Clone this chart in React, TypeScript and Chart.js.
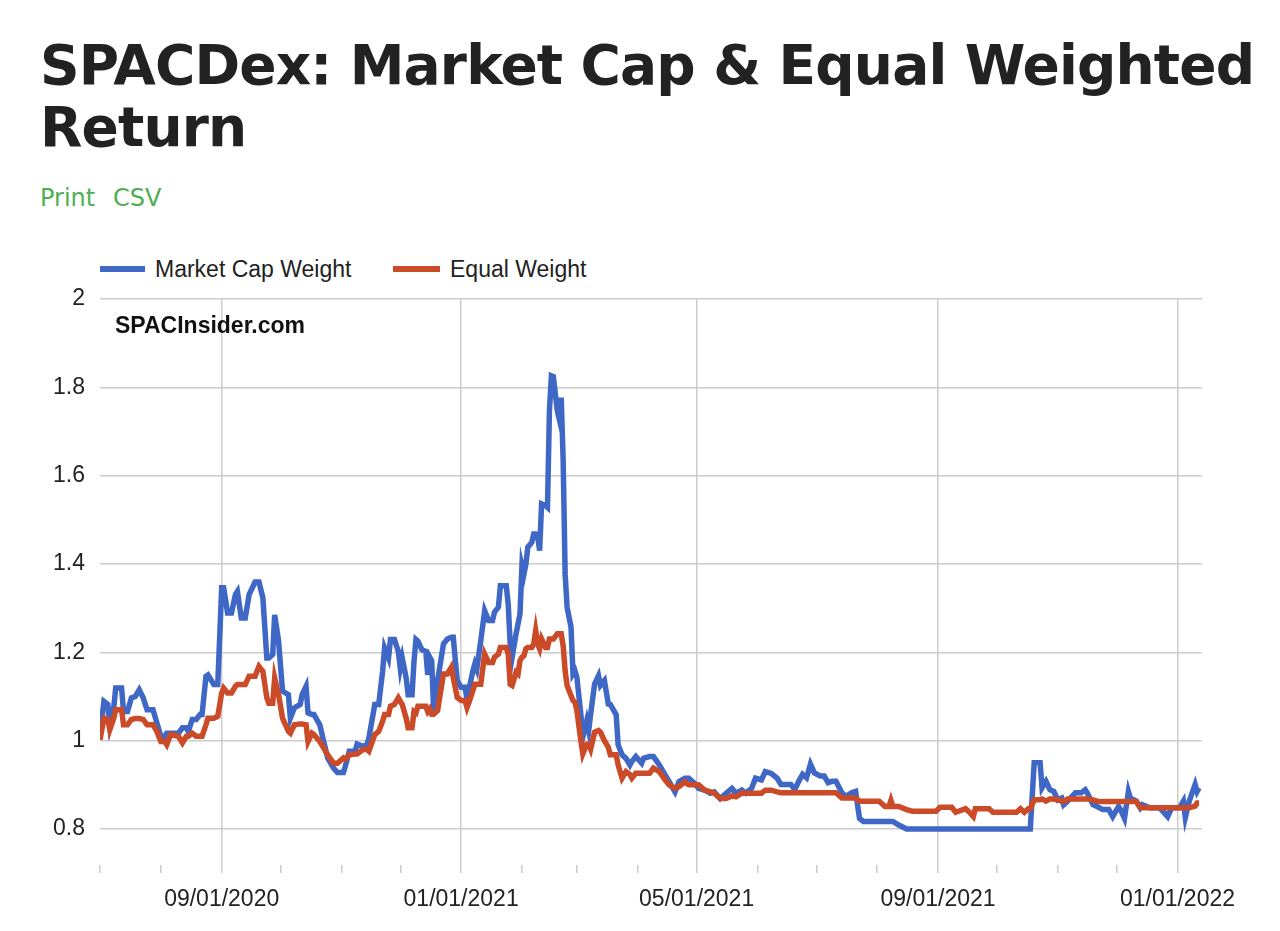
import React, { useEffect, useRef } from "react";
import { Chart, registerables } from "chart.js";

Chart.register(...registerables);

// x values: days since 2020-07-01
const days = [
  0, 2, 4, 5, 7, 8, 11, 12, 14, 16, 18, 20, 22, 24, 27, 29, 31, 33, 34, 36, 40, 42, 44, 45, 47, 49, 51, 52, 54, 55, 58, 60,
  62, 63, 65, 67, 69, 70, 72, 74, 76, 79, 81, 83, 85, 86, 88, 89, 91, 93, 96, 97, 99, 102, 103, 105, 106, 108, 109, 112, 114, 116,
  119, 121, 124, 125, 127, 130, 131, 134, 136, 137, 140, 142, 144, 145, 147, 148, 150, 152, 153, 154, 156, 157, 159, 160, 161, 162, 164, 166, 167, 168,
  169, 170, 172, 175, 177, 179, 180, 182, 184, 186, 187, 188, 190, 191, 192, 194, 196, 198, 200, 201, 203, 204, 207, 208, 209, 210, 212, 213,
  214, 215, 216, 217, 218, 220, 221, 222, 223, 224, 225, 227, 228, 229, 230, 231, 233, 234, 235, 236, 237, 238, 240, 241, 242, 243, 245, 246,
  248, 249, 250, 252, 254, 255, 257, 259, 260, 263, 264, 266, 268, 270, 271, 273, 276, 277, 280, 282, 285, 288, 290, 293, 295, 298, 300, 303,
  305, 308, 311, 313, 316, 319, 322, 324, 327, 329, 332, 334, 337, 339, 342, 345, 347, 350, 352, 354, 356, 358, 360, 361, 362, 364, 367, 369,
  371, 373, 375, 378, 380, 383, 385, 387, 389, 397, 400, 402, 403, 404, 407, 411, 414, 426, 428, 434, 436, 441, 443, 445, 446, 453, 455, 467,
  469, 471, 473, 474, 476, 479, 480, 482, 484, 486, 488, 490, 491, 493, 497, 500, 502, 503, 506, 508, 511, 514, 516, 519, 520, 522, 524, 525,
  528, 530, 531, 535, 540, 544, 546, 550, 552, 553, 555, 558, 559, 560,
];

const marketCapWeight = [
  1.012, 1.089, 1.082, 1.036, 1.074, 1.119, 1.119, 1.066, 1.066, 1.097, 1.1, 1.115, 1.097, 1.07, 1.07, 1.04, 1.01, 1.01, 1.017, 1.017, 1.017, 1.029, 1.029, 1.021, 1.048, 1.048, 1.059, 1.059, 1.146, 1.149, 1.127, 1.127,
  1.346, 1.346, 1.289, 1.289, 1.331, 1.338, 1.278, 1.278, 1.331, 1.359, 1.359, 1.323, 1.187, 1.187, 1.195, 1.285, 1.225, 1.112, 1.104, 1.051, 1.074, 1.082, 1.104, 1.123, 1.063, 1.059, 1.059, 1.036, 0.998, 0.961,
  0.938, 0.928, 0.928, 0.942, 0.976, 0.976, 0.992, 0.987, 0.991, 1.006, 1.082, 1.082, 1.157, 1.21, 1.187, 1.229, 1.229, 1.202, 1.164, 1.187, 1.142, 1.104, 1.104, 1.18, 1.229, 1.225, 1.206, 1.202, 1.149, 1.189,
  1.181, 1.068, 1.136, 1.219, 1.23, 1.234, 1.234, 1.136, 1.121, 1.121, 1.094, 1.117, 1.158, 1.174, 1.162, 1.226, 1.294, 1.272, 1.272, 1.291, 1.302, 1.351, 1.351, 1.309, 1.219, 1.189, 1.242, 1.264,
  1.287, 1.396, 1.377, 1.4, 1.438, 1.449, 1.468, 1.468, 1.464, 1.43, 1.536, 1.532, 1.528, 1.747, 1.826, 1.824, 1.747, 1.728, 1.777, 1.634, 1.377, 1.302, 1.257, 1.151, 1.158, 1.143, 1.06, 1.008,
  1.045, 1.023, 1.06, 1.128, 1.147, 1.125, 1.136, 1.083, 1.082, 1.059, 0.991, 0.968, 0.96, 0.945, 0.953, 0.964, 0.949, 0.96, 0.964, 0.964, 0.945, 0.922, 0.907, 0.884, 0.907, 0.915, 0.915, 0.903,
  0.892, 0.888, 0.881, 0.884, 0.869, 0.881, 0.892, 0.881, 0.888, 0.881, 0.892, 0.915, 0.911, 0.93, 0.926, 0.915, 0.901, 0.901, 0.901, 0.889, 0.908, 0.924, 0.916, 0.931, 0.947, 0.927, 0.92, 0.92,
  0.905, 0.908, 0.908, 0.882, 0.874, 0.882, 0.885, 0.824, 0.817, 0.817, 0.817, 0.817, 0.817, 0.817, 0.809, 0.8, 0.8, 0.8, 0.8, 0.8, 0.8, 0.8, 0.8, 0.8, 0.8, 0.8, 0.8, 0.8,
  0.8, 0.8, 0.8, 0.8, 0.95, 0.95, 0.893, 0.908, 0.889, 0.885, 0.866, 0.87, 0.855, 0.863, 0.882, 0.882, 0.889, 0.882, 0.855, 0.851, 0.844, 0.844, 0.828, 0.851, 0.844, 0.824, 0.885, 0.87,
  0.863, 0.848, 0.855, 0.848, 0.848, 0.828, 0.848, 0.848, 0.863, 0.826, 0.863, 0.901, 0.885, 0.893,
];

const equalWeight = [
  1.002, 1.051, 1.048, 1.025, 1.051, 1.07, 1.07, 1.036, 1.036, 1.048, 1.05, 1.05, 1.048, 1.036, 1.036, 1.021, 0.998, 0.998, 0.991, 1.014, 1.01, 0.995, 1.01, 1.01, 1.017, 1.01, 1.01, 1.01, 1.036, 1.051, 1.051, 1.055,
  1.108, 1.119, 1.108, 1.108, 1.123, 1.127, 1.127, 1.127, 1.146, 1.146, 1.168, 1.157, 1.097, 1.085, 1.085, 1.142, 1.104, 1.051, 1.021, 1.017, 1.036, 1.038, 1.038, 1.036, 0.998, 1.017, 1.014, 0.998, 0.983, 0.968,
  0.949, 0.949, 0.961, 0.958, 0.968, 0.97, 0.97, 0.98, 0.98, 0.976, 1.014, 1.021, 1.044, 1.059, 1.059, 1.078, 1.082, 1.097, 1.089, 1.082, 1.051, 1.029, 1.029, 1.066, 1.063, 1.078, 1.078, 1.078, 1.066, 1.072,
  1.06, 1.06, 1.068, 1.151, 1.151, 1.166, 1.143, 1.098, 1.091, 1.091, 1.075, 1.087, 1.113, 1.128, 1.128, 1.128, 1.196, 1.177, 1.177, 1.189, 1.196, 1.211, 1.211, 1.196, 1.128, 1.125, 1.155, 1.151,
  1.181, 1.189, 1.192, 1.208, 1.211, 1.211, 1.219, 1.249, 1.219, 1.208, 1.23, 1.211, 1.211, 1.23, 1.23, 1.23, 1.242, 1.242, 1.242, 1.215, 1.158, 1.125, 1.102, 1.091, 1.087, 1.068, 1.0, 0.97,
  0.992, 0.992, 0.981, 1.019, 1.023, 1.019, 1.0, 0.985, 0.968, 0.968, 0.945, 0.915, 0.93, 0.923, 0.915, 0.926, 0.926, 0.926, 0.926, 0.938, 0.93, 0.911, 0.9, 0.892, 0.896, 0.907, 0.9, 0.9,
  0.9, 0.888, 0.884, 0.881, 0.869, 0.869, 0.875, 0.873, 0.881, 0.881, 0.881, 0.881, 0.881, 0.888, 0.888, 0.884, 0.882, 0.882, 0.882, 0.882, 0.882, 0.882, 0.882, 0.882, 0.882, 0.882, 0.882, 0.882,
  0.882, 0.882, 0.882, 0.87, 0.87, 0.87, 0.87, 0.863, 0.863, 0.863, 0.851, 0.851, 0.865, 0.851, 0.851, 0.844, 0.84, 0.84, 0.849, 0.849, 0.838, 0.846, 0.838, 0.828, 0.846, 0.846, 0.838, 0.838,
  0.846, 0.838, 0.846, 0.846, 0.866, 0.866, 0.868, 0.863, 0.868, 0.868, 0.866, 0.863, 0.862, 0.868, 0.868, 0.868, 0.868, 0.868, 0.866, 0.863, 0.862, 0.862, 0.862, 0.862, 0.862, 0.862, 0.862, 0.862,
  0.862, 0.849, 0.848, 0.848, 0.848, 0.848, 0.848, 0.848, 0.848, 0.848, 0.848, 0.852, 0.859, 0.859,
];

// month tick marks (first of each month) and which of them carry a label
const monthTicks = [
  "2020-07", "2020-08", "2020-09", "2020-10", "2020-11", "2020-12", "2021-01", "2021-02", "2021-03", "2021-04",
  "2021-05", "2021-06", "2021-07", "2021-08", "2021-09", "2021-10", "2021-11", "2021-12", "2022-01",
];
const xTickLabels = ["09/01/2020", "01/01/2021", "05/01/2021", "09/01/2021", "01/01/2022"];

const yTickValues = [0.8, 1, 1.2, 1.4, 1.6, 1.8, 2];
const yTickLabels = ["0.8", "1", "1.2", "1.4", "1.6", "1.8", "2"];

const seriesNames = ["Market Cap Weight", "Equal Weight"];
const WATERMARK = "SPACInsider.com";

const BLUE = "#3f67c6";
const RED = "#cb4a27";
const GRID = "#cccccc";
const TEXT = "#222222";
const FONT = '"Liberation Sans", Arial, Helvetica, sans-serif';

const DAY_MS = 86400000;
const ORIGIN = Date.UTC(2020, 6, 1);
const monthInfo = monthTicks.map((m) => {
  const [y, mo] = m.split("-").map(Number);
  const day = Math.round((Date.UTC(y, mo - 1, 1) - ORIGIN) / DAY_MS);
  const label = `${String(mo).padStart(2, "0")}/01/${y}`;
  return { day, label, shown: xTickLabels.includes(label) };
});

const watermarkPlugin = {
  id: "watermark",
  afterDatasetsDraw(chart: any) {
    const { ctx, chartArea } = chart;
    ctx.save();
    ctx.font = `bold 23px ${FONT}`;
    ctx.fillStyle = "#111111";
    ctx.textBaseline = "middle";
    ctx.fillText(WATERMARK, chartArea.left + 15, chartArea.top + 28);
    ctx.restore();
  },
};

function ChartCanvas() {
  const ref = useRef<HTMLCanvasElement | null>(null);
  useEffect(() => {
    if (!ref.current) return;
    const chart = new Chart(ref.current, {
      type: "line",
      data: {
        datasets: [
          {
            label: seriesNames[0],
            data: days.map((d, i) => ({ x: d, y: marketCapWeight[i] })),
            borderColor: BLUE,
            backgroundColor: BLUE,
            borderWidth: 5.5,
            pointRadius: 0,
            tension: 0,
            order: 1,
          },
          {
            label: seriesNames[1],
            data: days.map((d, i) => ({ x: d, y: equalWeight[i] })),
            borderColor: RED,
            backgroundColor: RED,
            borderWidth: 5.5,
            pointRadius: 0,
            tension: 0,
            order: 0,
          },
        ],
      },
      options: {
        animation: false,
        responsive: false,
        maintainAspectRatio: false,
        layout: { padding: { top: 69, right: 78, bottom: 0, left: 0 } },
        plugins: {
          legend: { display: false },
          tooltip: { enabled: false },
          title: { display: false },
        },
        scales: {
          x: {
            type: "linear",
            min: 0,
            max: 561.5,
            afterBuildTicks: (s: any) => {
              s.ticks = monthInfo.map((m) => ({ value: m.day }));
            },
            afterFit: (s: any) => {
              s.height = 66;
            },
            ticks: {
              autoSkip: false,
              maxRotation: 0,
              minRotation: 0,
              padding: 13,
              color: TEXT,
              font: { family: FONT, size: 23 },
              callback: (v: any) => {
                const m = monthInfo.find((mm) => mm.day === v);
                return m && m.shown ? m.label : "";
              },
            },
            grid: {
              color: (ctx: any) => {
                const v = ctx.tick ? ctx.tick.value : null;
                const m = monthInfo.find((mm) => mm.day === v);
                return m && m.shown ? GRID : "rgba(0,0,0,0)";
              },
              tickColor: GRID,
              tickLength: 8,
              lineWidth: 1.5,
              drawTicks: true,
            },
            border: { display: false },
          },
          y: {
            min: 0.7185,
            max: 2,
            afterBuildTicks: (s: any) => {
              s.ticks = yTickValues.map((v) => ({ value: v }));
            },
            afterFit: (s: any) => {
              s.width = 100;
            },
            ticks: {
              padding: 15,
              color: TEXT,
              font: { family: FONT, size: 23 },
              callback: (v: any) => {
                const i = yTickValues.indexOf(v);
                return i >= 0 ? yTickLabels[i] : "";
              },
            },
            grid: { color: GRID, lineWidth: 1.5, drawTicks: false },
            border: { display: false },
          },
        },
      },
      plugins: [watermarkPlugin],
    } as any);
    return () => chart.destroy();
  }, []);
  return <canvas ref={ref} width={1280} height={701} style={{ display: "block", width: 1280, height: 701 }} />;
}

export default function App() {
  const legendText: React.CSSProperties = {
    position: "absolute",
    top: 255,
    font: `23px ${FONT}`,
    lineHeight: "28px",
    color: TEXT,
    whiteSpace: "nowrap",
  };
  const green: React.CSSProperties = {
    position: "absolute",
    top: 184,
    font: '24px "DejaVu Sans", sans-serif',
    lineHeight: "28px",
    color: "#4fae52",
    whiteSpace: "nowrap",
  };
  return (
    <div>
      <h1
        style={{
          position: "absolute",
          left: 40,
          top: 34,
          margin: 0,
          font: 'bold 55px "DejaVu Sans", sans-serif',
          lineHeight: "62px",
          letterSpacing: "-0.85px",
          color: "#222222",
          whiteSpace: "nowrap",
        }}
      >
        SPACDex: Market Cap &amp; Equal Weighted
        <br />
        Return
      </h1>
      <span style={{ ...green, left: 40 }}>Print</span>
      <span style={{ ...green, left: 113 }}>CSV</span>
      <div style={{ position: "absolute", left: 100, top: 266, width: 45, height: 6, background: BLUE }} />
      <span style={{ ...legendText, left: 155 }}>{seriesNames[0]}</span>
      <div style={{ position: "absolute", left: 393, top: 266, width: 47, height: 6, background: RED }} />
      <span style={{ ...legendText, left: 450 }}>{seriesNames[1]}</span>
      <div style={{ position: "absolute", left: 0, top: 230, width: 1280, height: 701 }}>
        <ChartCanvas />
      </div>
    </div>
  );
}
